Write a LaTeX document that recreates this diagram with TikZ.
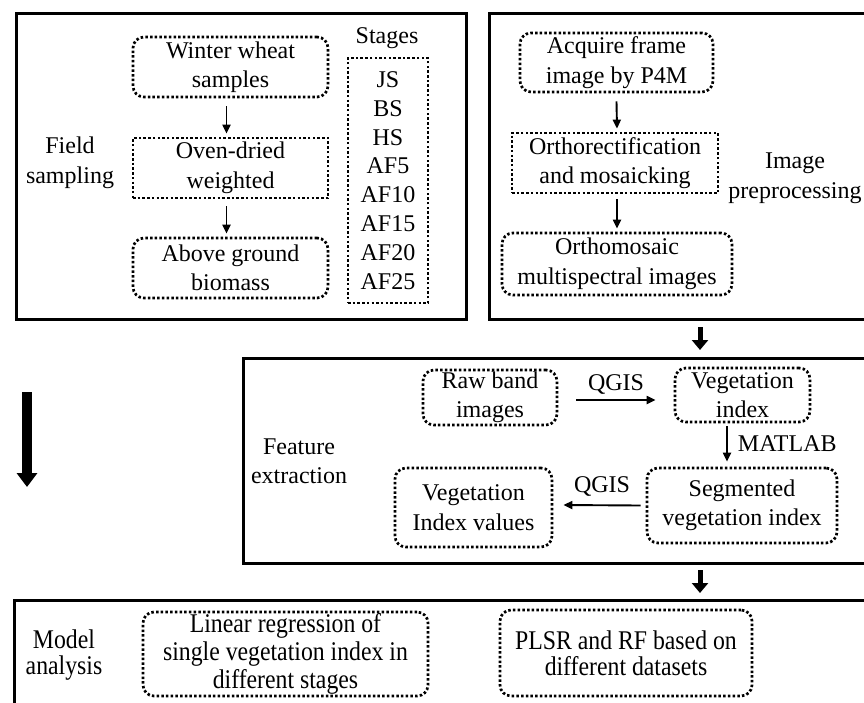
\documentclass[tikz,border=0pt]{standalone}
\usepackage{fontspec}
\setmainfont{Liberation Serif}
\newfontfamily\narrowserif[FakeStretch=0.88]{Liberation Serif}
\usetikzlibrary{arrows.meta}
\begin{document}
\begin{tikzpicture}[x=1pt,y=-1pt,
  font=\fontsize{24}{29.5}\selectfont,
  outer/.style={draw, line width=3pt, rectangle, inner sep=0pt, anchor=north west},
  dotbox/.style={draw, line width=2.7pt, dash pattern=on 2.5pt off 2.2pt, align=center, inner sep=0pt, rounded corners=11pt},
  sqbox/.style={dotbox, sharp corners},
  lbl/.style={align=center, inner sep=0pt},
  arr/.style={-{Triangle[length=9pt,width=8pt]}, line width=1.9pt},
  bigarr/.style={-{Triangle[length=10pt,width=16pt]}, line width=5pt},
  hugearr/.style={-{Triangle[length=14pt,width=20pt]}, line width=10pt},
  narrow/.style={font=\narrowserif\fontsize{27}{28}\selectfont},
]
\useasboundingbox (0,0) rectangle (864,702);
\clip (0,0) rectangle (864,702);
\fill[white] (0,0) rectangle (864,702);

% outer boxes
\node[outer, minimum width=450pt, minimum height=306pt] (b1) at (15,12) {};
\node[outer, minimum width=420pt, minimum height=306pt] (b2) at (488,12) {};
\node[outer, minimum width=660pt, minimum height=205pt] (b3) at (242,357) {};
\node[outer, minimum width=880pt, minimum height=150pt] (b4) at (13,599) {};

% Field sampling
\node[lbl] (fs) at (70,163) {Field\\sampling};
\node[dotbox, minimum width=195pt, minimum height=60pt] (ww) at (230.5,67) {Winter wheat\\samples};
\node[sqbox, minimum width=195pt, minimum height=60pt] (od) at (230.5,168) {Oven-dried\\weighted};
\node[dotbox, minimum width=195pt, minimum height=60pt] (ab) at (230.5,268) {Above ground\\biomass};
\draw[arr] ([shift={(-4,8)}]ww.south) -- ([shift={(-4,-3)}]od.north);
\draw[arr] ([shift={(-4,7)}]od.south) -- ([shift={(-4,-3)}]ab.north);
\node[lbl] (st) at (387,38) {Stages};
\node[sqbox, minimum width=80pt, minimum height=245pt, font=\fontsize{24}{28.8}\selectfont] (stg) at (388,180.5) {JS\\BS\\HS\\AF5\\AF10\\AF15\\AF20\\AF25};

% Image preprocessing
\node[dotbox, minimum width=193pt, minimum height=59pt] (af) at (616.5,62.5) {Acquire frame\\image by P4M};
\node[sqbox, minimum width=206pt, minimum height=60pt] (orr) at (615,163) {Orthorectification\\and mosaicking};
\node[dotbox, minimum width=230pt, minimum height=62pt] (om) at (617,264) {Orthomosaic\\multispectral images};
\draw[arr] ([shift={(0,8)}]af.south) -- ([shift={(2,-3)}]orr.north);
\draw[arr] ([shift={(2,5)}]orr.south) -- ([shift={(0,-3)}]om.north);
\node[lbl] (ip) at (795,178) {Image\\preprocessing};

% Feature extraction
\node[lbl] (fe) at (299,461) {Feature\\extraction};
\node[dotbox, minimum width=134pt, minimum height=55pt] (rb) at (490,397.5) {Raw band\\images};
\node[dotbox, minimum width=135pt, minimum height=54pt] (vi) at (742.5,395) {Vegetation\\index};
\node[dotbox, minimum width=190pt, minimum height=75pt] (sv) at (742,505.5) {Segmented\\vegetation index};
\node[dotbox, minimum width=157pt, minimum height=79pt] (viv) at (473.5,507.5) {Vegetation\\Index values};
\draw[arr] ([shift={(18,2.5)}]rb.east) -- node[above=5pt, inner sep=0pt] (q1) {QGIS} ([shift={(-18,5)}]vi.west);
\draw[arr] ([shift={(-15.5,3)}]vi.south) -- node[right=10pt, inner sep=0pt] (mt) {MATLAB} ([shift={(-15,-5)}]sv.north);
\draw[arr] ([shift={(-5,0)}]sv.west) -- node[above=8pt, inner sep=0pt] (q2) {QGIS} ([shift={(10,-2.5)}]viv.east);

% Model analysis
\node[lbl, narrow, font=\narrowserif\fontsize{27}{26}\selectfont] (ma) at (64,655) {Model\\analysis};
\node[dotbox, minimum width=285pt, minimum height=84pt, narrow] (lr) at (285.5,654) {Linear regression of\\single vegetation index in\\different stages};
\node[dotbox, minimum width=252pt, minimum height=86pt, narrow, font=\narrowserif\fontsize{27}{26}\selectfont] (pl) at (626,653) {PLSR and RF based on\\different datasets};

% thick arrows
\draw[bigarr] ([shift={(212,6)}]b2.south west) -- ([shift={(458,-7)}]b3.north west);
\draw[bigarr] ([shift={(458,5)}]b3.south west) -- ([shift={(687,-6)}]b4.north west);
\coordinate (la1) at (27,392);
\coordinate (la2) at (27,487);
\draw[hugearr] (la1) -- (la2);
\end{tikzpicture}
\end{document}
